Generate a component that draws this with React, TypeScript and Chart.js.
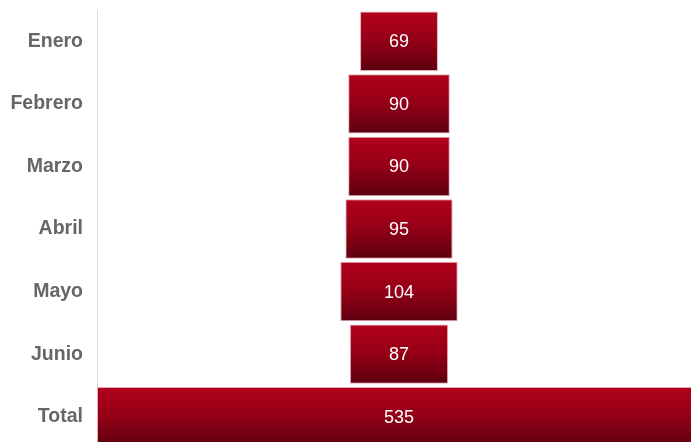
import React, { useEffect, useRef } from "react";
import { Chart, registerables } from "chart.js";

Chart.register(...registerables);

const categories = ["Enero", "Febrero", "Marzo", "Abril", "Mayo", "Junio", "Total"];
const values = [69, 90, 90, 95, 104, 87, 535];
const totalValue = 535;

const BAR_PCT = 0.95;

const valueLabelPlugin = {
  id: "valueLabels",
  afterDatasetsDraw(chart: any) {
    const { ctx } = chart;
    const meta = chart.getDatasetMeta(0);
    ctx.save();
    ctx.fillStyle = "#ffffff";
    ctx.font = "18px 'Liberation Sans', Arial, sans-serif";
    ctx.textAlign = "center";
    ctx.textBaseline = "middle";
    meta.data.forEach((el: any, i: number) => {
      const cx = (el.x + el.base) / 2;
      ctx.fillText(String(values[i]), cx, el.y + 1);
    });
    ctx.restore();
  },
};

export default function App() {
  const ref = useRef<HTMLCanvasElement>(null);
  useEffect(() => {
    document.body.style.margin = "0";
    document.body.style.overflow = "hidden";
    const floating = values.map((v) => [(totalValue - v) / 2, (totalValue + v) / 2]);
    const chart = new Chart(ref.current!, {
      type: "bar",
      data: {
        labels: categories,
        datasets: [
          {
            data: floating as any,
            borderColor: "#e6aab2",
            borderWidth: 1,
            borderSkipped: false,
            barPercentage: BAR_PCT,
            categoryPercentage: 1,
            backgroundColor: (c: any) => {
              const ch = c.chart;
              const area = ch.chartArea;
              if (!area || c.dataIndex === undefined) return "#8a0014";
              const yScale = ch.scales.y;
              const y = yScale.getPixelForValue(c.dataIndex);
              const h = (area.height / categories.length) * BAR_PCT;
              const g = ch.ctx.createLinearGradient(0, y - h / 2, 0, y + h / 2);
              g.addColorStop(0, "#b3001b");
              g.addColorStop(0.5, "#930016");
              g.addColorStop(1, "#5c000e");
              return g;
            },
          },
        ],
      },
      options: {
        indexAxis: "y",
        responsive: false,
        animation: false,
        layout: { padding: { top: 10, bottom: 0, left: 0, right: 0 } },
        plugins: { legend: { display: false }, tooltip: { enabled: false } },
        scales: {
          x: { display: false, min: 0, max: totalValue },
          y: {
            grid: { display: true, drawOnChartArea: false, drawTicks: false },
            border: { display: true, color: "#dddddd", width: 1 },
            ticks: {
              color: "#666666",
              padding: 14,
              font: { family: "'Liberation Sans', Arial, sans-serif", size: 19.5, weight: "bold" },
            },
            afterFit: (scale: any) => {
              scale.width = 97;
              scale.paddingTop = 0;
              scale.paddingBottom = 0;
            },
          },
        },
      },
      plugins: [valueLabelPlugin],
    });
    return () => chart.destroy();
  }, []);
  return (
    <canvas
      ref={ref}
      width={701}
      height={448}
      style={{ position: "fixed", left: 0, top: 0, width: 701, height: 448 }}
    />
  );
}
